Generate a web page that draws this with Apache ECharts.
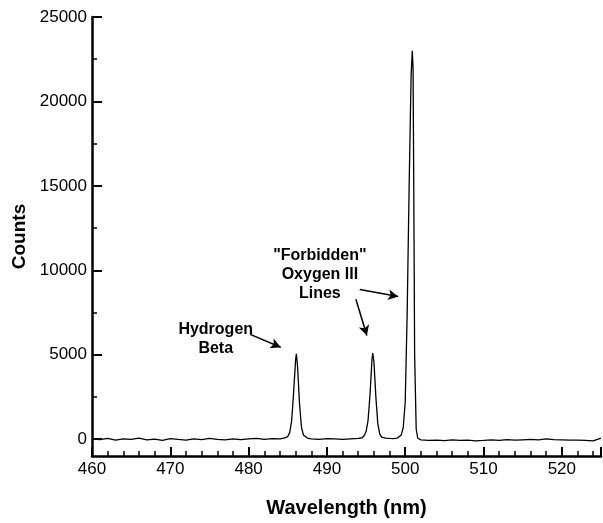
<!DOCTYPE html>
<html>
<head>
<meta charset="utf-8">
<script src="https://cdn.jsdelivr.net/npm/echarts@6/dist/echarts.min.js"></script>
<style>
  html, body { margin: 0; padding: 0; background: #fff; }
  #chart { width: 603px; height: 523px; }
</style>
</head>
<body>
<div id="chart"></div>
<script>
// spectrum (nm, counts)
const wavelengths = [
  460, 461, 462, 463, 464, 465, 466, 467, 468, 469, 470, 471, 472, 473, 474, 475, 476, 477, 478, 479,
  480, 481, 482, 483, 484, 484.5, 485, 485.25, 485.5, 485.75, 486, 486.1, 486.25, 486.5, 486.75, 487, 487.5,
  488, 489, 490, 491, 492, 493, 494, 494.5, 494.75, 495, 495.25, 495.5, 495.75, 495.85, 496, 496.25, 496.5,
  496.75, 497, 497.5, 498, 498.5, 499, 499.5, 499.75, 500, 500.25, 500.5, 500.75, 500.9, 501, 501.1, 501.2,
  501.4, 501.6, 502, 503, 504, 505, 506, 507, 508, 509, 510, 511, 512, 513, 514, 515, 516, 517, 518, 519,
  520, 521, 522, 523, 524, 525
];
const counts = [
  20, -30, 40, -60, 10, -20, 60, -40, 0, -70, 30, -20, -60, 20, -30, 40, -10, -50, 20, -30,
  10, 40, -20, 30, 10, 60, 150, 400, 1100, 2800, 4700, 5050, 4300, 2100, 700, 250, 60,
  20, -10, 30, 10, -20, 20, 40, 80, 200, 450, 1100, 2600, 4700, 5100, 4600, 2500, 900,
  300, 120, 60, 40, 30, 60, 250, 700, 2200, 7500, 15000, 21500, 23000, 22000, 14000, 5000,
  600, 50, -40, -80, -60, -90, -40, -70, -60, -100, -80, -50, -70, -30, -60, -40, -20, -50, 10, -30,
  -40, -60, -60, -80, -100, 60
];

const yMajor = [0, 5000, 10000, 15000, 20000, 25000];
const yMinor = [2500, 7500, 12500, 17500, 22500];

// annotation text and arrows, in data coordinates
const notes = [
  { at: [489.1, 9750], text: '"Forbidden"\nOxygen III\nLines' },
  { at: [475.8, 5950], text: 'Hydrogen\nBeta' }
];
const arrows = [
  [[480.2, 6200], [484.1, 5440]],
  [[494.2, 8860], [499.1, 8450]],
  [[493.7, 8280], [495.1, 6140]]
];

const chart = echarts.init(document.getElementById('chart'));

const font = 'Liberation Sans, Arial, Helvetica, sans-serif';

const option = {
  animation: false,
  backgroundColor: '#fff',
  grid: { left: 92, right: 2, top: 17, bottom: 57 },
  xAxis: {
    type: 'value',
    min: 460,
    max: 525,
    interval: 10,
    name: 'Wavelength (nm)',
    nameLocation: 'middle',
    nameGap: 42,
    nameTextStyle: { color: '#000', fontSize: 20, fontWeight: 'bold', fontFamily: font },
    axisLine: { onZero: false, lineStyle: { color: '#000', width: 2.5 } },
    axisTick: { inside: true, length: 9, lineStyle: { color: '#000', width: 2 } },
    minorTick: { show: true, splitNumber: 5, length: 5, lineStyle: { color: '#000', width: 1.5 } },
    axisLabel: {
      color: '#000', fontSize: 17, fontFamily: font, margin: 5,
      showMaxLabel: false, formatter: v => String(v)
    },
    splitLine: { show: false }
  },
  yAxis: [
    {
      type: 'value',
      min: -1000,
      max: 25000,
      name: 'Counts',
      nameLocation: 'middle',
      nameGap: 63,
      nameTextStyle: { color: '#000', fontSize: 19, fontWeight: 'bold', fontFamily: font },
      axisLine: { show: true, lineStyle: { color: '#000', width: 2.5 } },
      axisTick: { inside: true, length: 10, customValues: yMajor, lineStyle: { color: '#000', width: 2 } },
      axisLabel: {
        color: '#000', fontSize: 17, fontFamily: font, margin: 5,
        customValues: yMajor, formatter: v => String(v)
      },
      splitLine: { show: false }
    },
    {
      type: 'value',
      min: -1000,
      max: 25000,
      position: 'left',
      axisLine: { show: false },
      axisTick: { show: true, inside: true, length: 5, customValues: yMinor, lineStyle: { color: '#000', width: 1.5 } },
      axisLabel: { show: false },
      splitLine: { show: false }
    }
  ],
  series: [
    {
      type: 'line',
      data: wavelengths.map((w, i) => [w, counts[i]]),
      showSymbol: false,
      lineStyle: { color: '#000', width: 1.3 },
      markLine: {
        silent: true,
        symbol: ['none', 'arrow'],
        symbolSize: [8, 10],
        lineStyle: { color: '#000', width: 1.5, type: 'solid' },
        label: { show: false },
        data: arrows.map(a => [{ coord: a[0] }, { coord: a[1] }])
      },
      markPoint: {
        silent: true,
        symbol: 'rect',
        symbolSize: 1,
        itemStyle: { color: 'rgba(0,0,0,0)' },
        label: {
          show: true,
          position: 'inside',
          color: '#000',
          fontSize: 16,
          fontWeight: 'bold',
          fontFamily: font,
          lineHeight: 19,
          align: 'center'
        },
        data: notes.map(n => ({ coord: n.at, value: 0, label: { formatter: n.text } }))
      }
    }
  ]
};

chart.setOption(option);
window.addEventListener('resize', () => chart.resize());
</script>
</body>
</html>
